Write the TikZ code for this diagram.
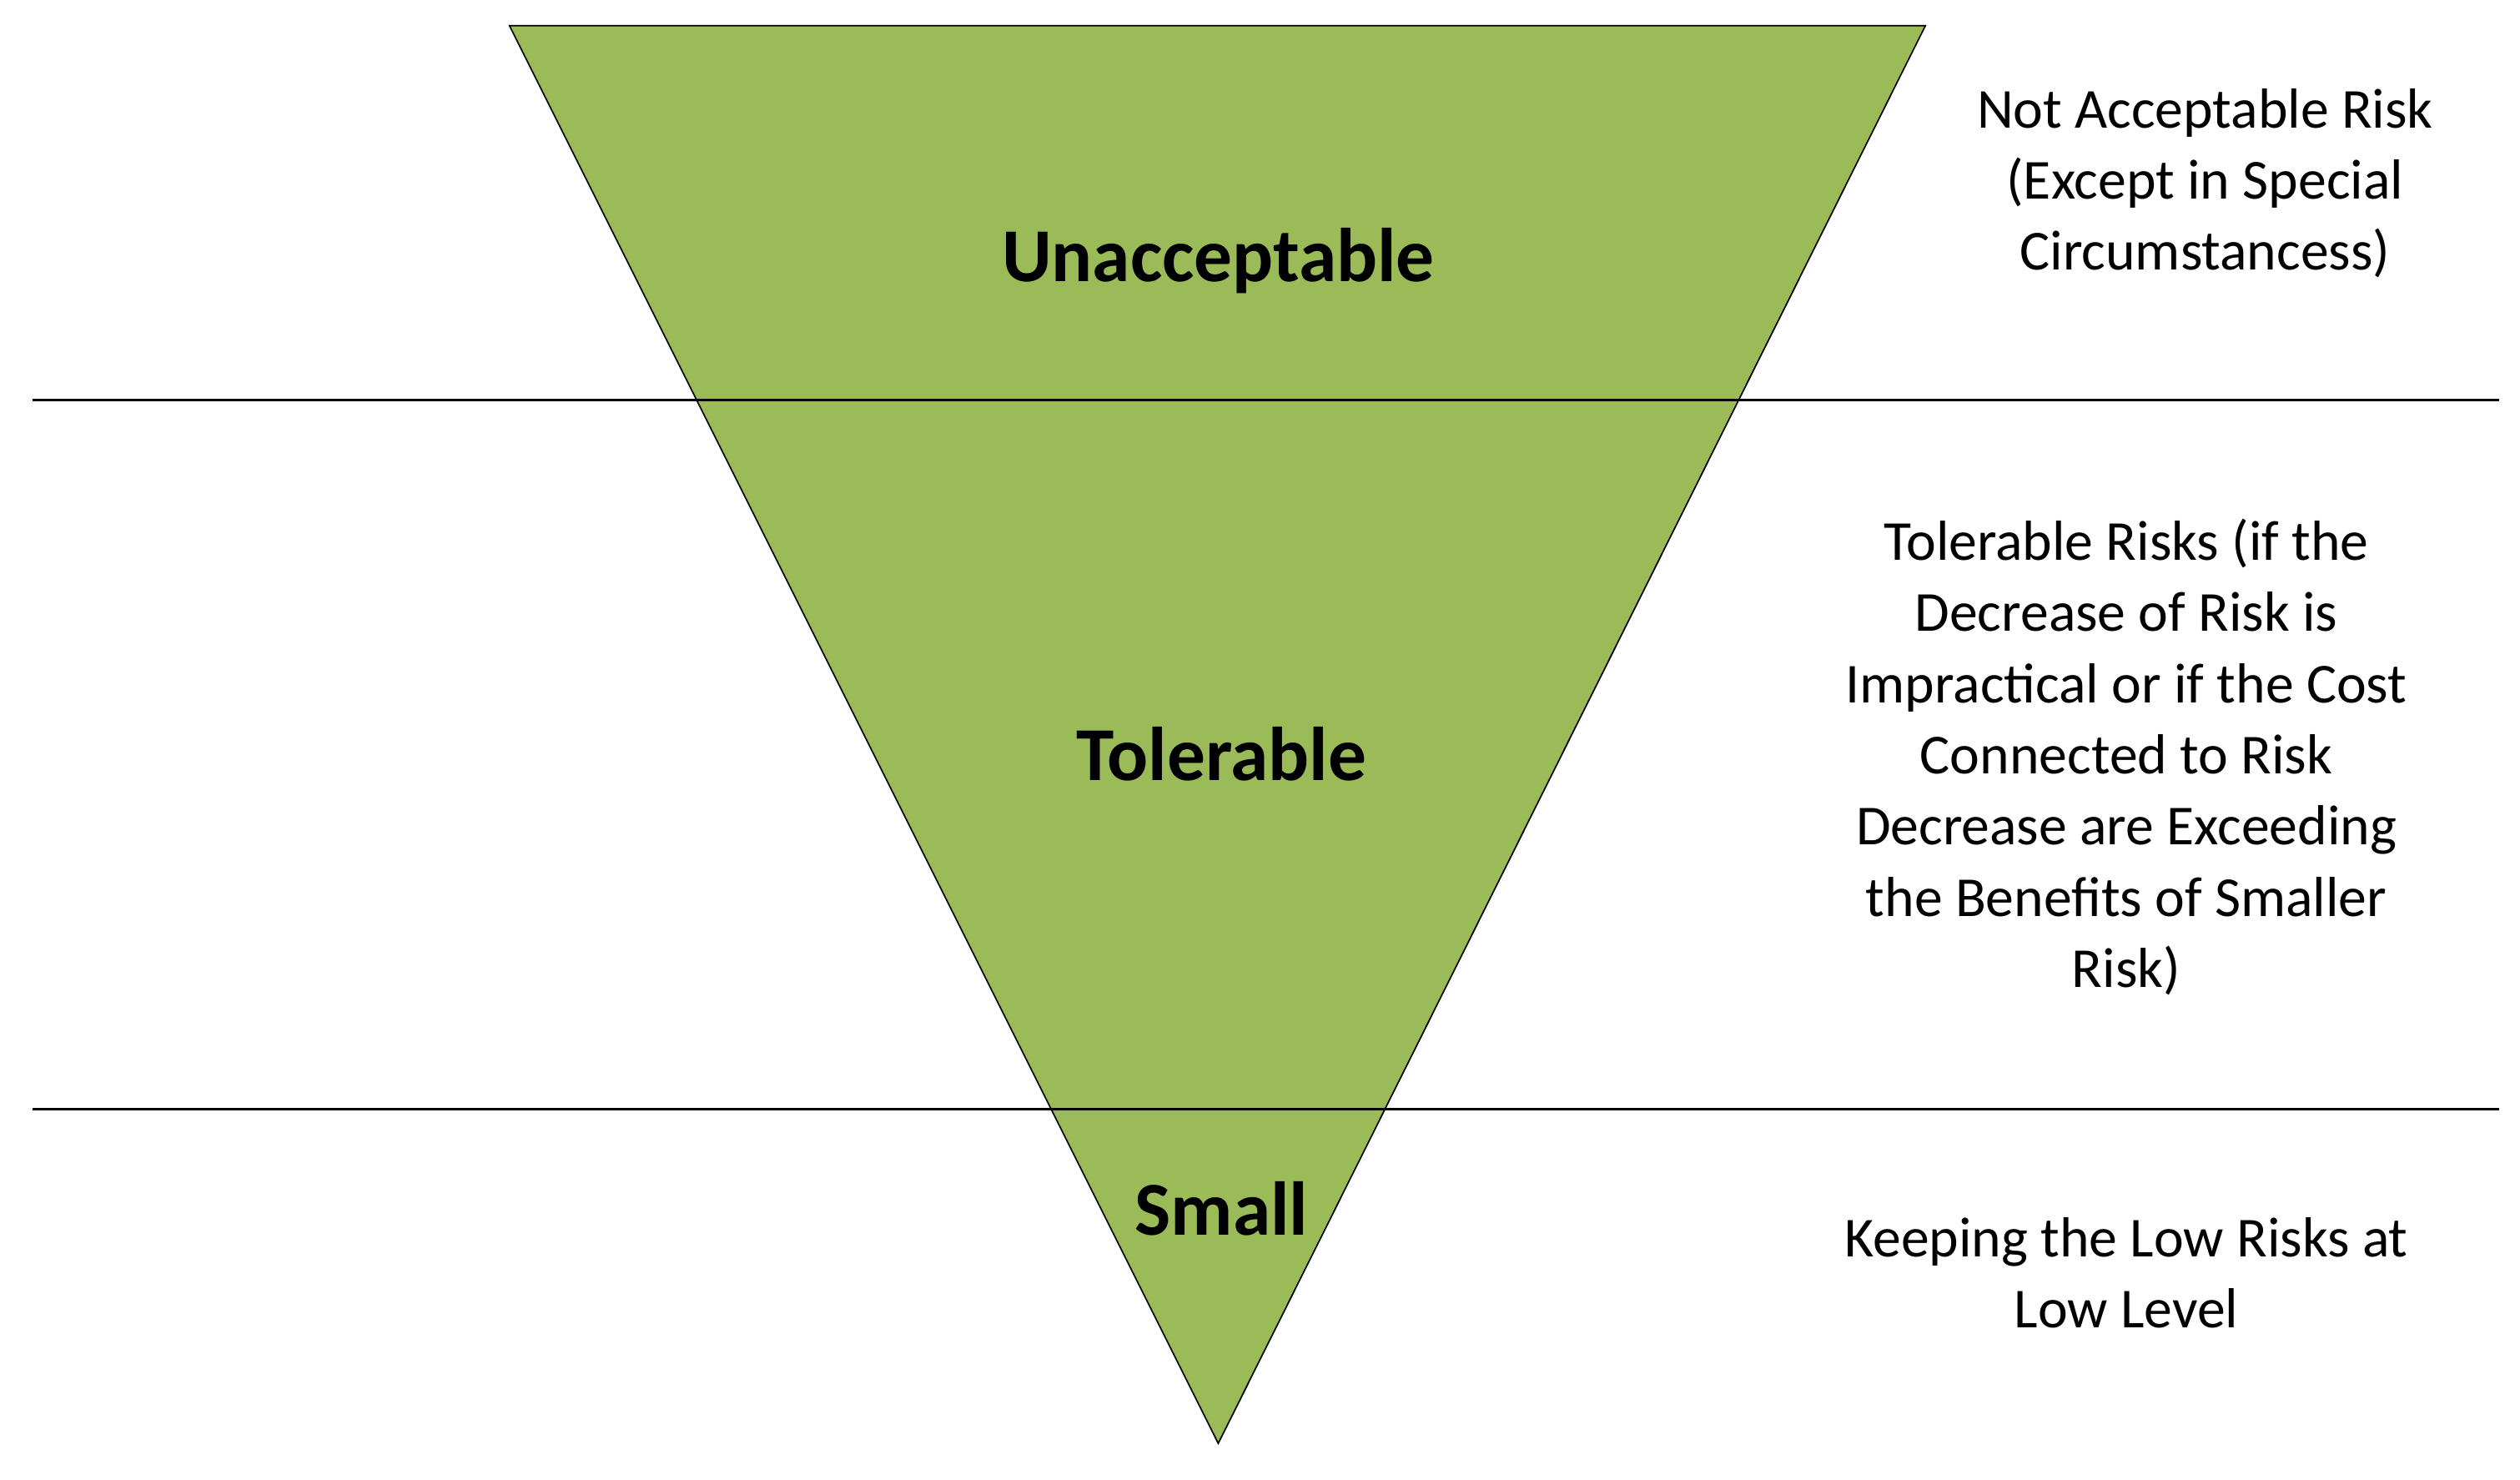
\documentclass[tikz,border=0pt]{standalone}
\usepackage{fontspec}
\setmainfont{Carlito}
\begin{document}
\begin{tikzpicture}[x=0.02cm,y=-0.02cm,
  lbl/.style={font=\fontsize{27}{32}\selectfont\bfseries},
  note/.style={font=\fontsize{20}{25.2}\selectfont,align=center}]
\useasboundingbox (0,0) rectangle (1568,920.6);
\definecolor{tri}{HTML}{9BBB59}
\coordinate (tl) at (317,16); \coordinate (tr) at (1198,16); \coordinate (ap) at (758,898);
\draw[fill=tri,line width=0.5pt] (tl) -- (tr) -- (ap) -- cycle;
\coordinate (l1a) at (20,249); \coordinate (l1b) at (1555,249);
\coordinate (l2a) at (20,690); \coordinate (l2b) at (1555,690);
\draw[line width=0.8pt] (l1a) -- (l1b);
\draw[line width=0.8pt] (l2a) -- (l2b);
\node[lbl] (u) at (758,162) {Unacceptable};
\node[lbl] (t) at (760,469) {Tolerable};
\node[lbl] (s) at (760,752) {Small};
\node[note] (n1) at (1372,114) {Not Acceptable Risk\\(Except in Special\\Circumstancess)};
\node[note] (n2) at (1323,471) {Tolerable Risks (if the\\Decrease of Risk is\\Impractical or if the Cost\\Connected to Risk\\Decrease are Exceeding\\the Benefits of Smaller\\Risk)};
\node[note] (n3) at (1323,792) {Keeping the Low Risks at\\Low Level};
\end{tikzpicture}
\end{document}
